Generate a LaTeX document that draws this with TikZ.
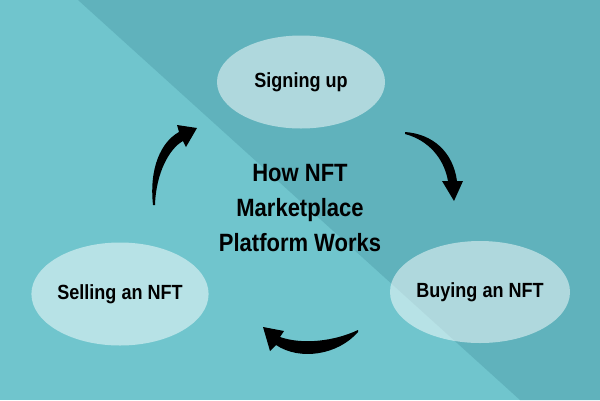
\documentclass[tikz,border=0pt]{standalone}
\usepackage{fontspec}
\setmainfont[FakeStretch=0.88]{Liberation Sans}
\usetikzlibrary{shapes.geometric}
\definecolor{bglight}{RGB}{112,197,205}
\definecolor{bgdark}{RGB}{96,178,188}

\begin{document}
\begin{tikzpicture}[x=1pt, y=-1pt,
    stage/.style={ellipse, fill=white, fill opacity=0.5, text opacity=1, inner sep=0pt,
        font=\fontsize{20.5}{24}\selectfont\bfseries},
    swoosh/.style={fill=black}]
    % Background
    \fill[bglight] (0,0) rectangle (600,400);
    \fill[bgdark] (78,0) -- (600,0) -- (600,400) -- (520,400) -- cycle;
    \useasboundingbox (0,0) rectangle (600,400);

    % Stages
    \node[stage, minimum width=168pt, minimum height=93pt] (sign) at (301,82) {Signing up};
    \node[stage, minimum width=176pt, minimum height=102pt] (buy) at (480,292) {Buying an NFT};
    \node[stage, minimum width=174pt, minimum height=103pt] (sell) at (120,294) {Selling an NFT};

    % Title
    \node[align=center, font=\fontsize{25}{35}\selectfont\bfseries] (title) at (300,208) {
        How NFT\\
        Marketplace\\
        Platform Works
    };

    % Selling -> Signing up
    \coordinate (tail1) at (153,205);
    \coordinate (tip1) at (197,128);
    \fill[swoosh] (tail1) .. controls (149,168) and (161,142) .. (179,132) -- (177,125) -- (tip1)
        -- (186,147) -- (183,141) .. controls (170,148) and (156,172) .. (155,205) -- cycle;

    % Signing up -> Buying
    \coordinate (tail2) at (405,132);
    \coordinate (tip2) at (454,201);
    \fill[swoosh] (tail2) .. controls (433,134) and (453,152) .. (457,181) -- (463,181) -- (tip2)
        -- (442,181) -- (448,181) .. controls (444,158) and (428,140) .. (405,134) -- cycle;

    % Buying -> Selling
    \coordinate (tail3) at (358,330);
    \coordinate (tip3) at (263,327);
    \fill[swoosh] (tail3) .. controls (335,341) and (303,345) .. (280,337) -- (284,331) -- (tip3)
        -- (270,351) -- (276,345) .. controls (300,361) and (338,355) .. (358,332) -- cycle;
\end{tikzpicture}
\end{document}
